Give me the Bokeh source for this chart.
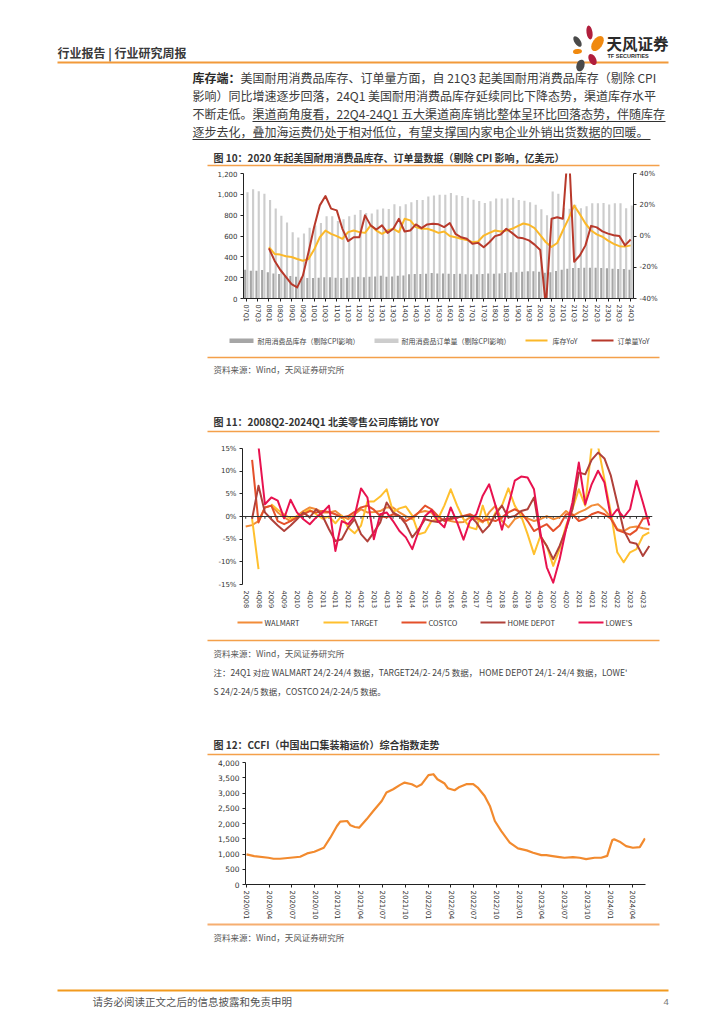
import numpy as np
import pandas as pd
from bokeh.plotting import figure
from bokeh.models import (Range1d, LinearAxis, FixedTicker, NumeralTickFormatter,
                          PrintfTickFormatter, Span, DatetimeTickFormatter)
from bokeh.layouts import column
from bokeh.core.properties import value
from bokeh.embed import file_html
from bokeh.resources import INLINE

nan = np.nan

# ---------------- Chart 10 data (07Q1 .. 24Q1) ----------------
quarters10 = [f"{y:02d}Q{q}" for y in range(7, 25) for q in range(1, 5)][:69]
inventory10 = [277, 267, 267, 273, 251, 241, 235, 219, 215, 209,
               203, 196, 196, 199, 203, 203, 199, 196, 199, 203,
               209, 203, 209, 212, 219, 209, 212, 219, 222, 232,
               235, 235, 238, 244, 241, 241, 238, 235, 238, 232,
               232, 232, 235, 241, 238, 241, 244, 251, 251, 257,
               261, 261, 257, 248, 251, 264, 277, 286, 293, 293,
               296, 296, 296, 293, 290, 286, 283, 283, 277]
orders10 = [1020, 1050, 1030, 1005, 945, 865, 795, 730, 635, 585,
            625, 680, 700, 725, 790, 790, 745, 760, 790, 805,
            850, 820, 815, 855, 865, 860, 905, 885, 905, 925,
            945, 945, 980, 990, 997, 997, 1013, 991, 985, 968,
            949, 936, 917, 933, 959, 959, 959, 968, 945, 938,
            925, 900, 858, 800, 1027, 1005, 870, 861, 899, 867,
            886, 915, 915, 918, 902, 915, 915, 867, 893]
inv_yoy10 = [nan, nan, nan, nan,
             -7.2, -11.5, -11.9, -13.0, -13.4, -14.7, -15.8, -14.7, -8.7, -0.8,
             3.5, 1.4, -0.1, -1.8, 2.5, 3.5, 2.5, 2.0, 6.8, 3.5,
             1.4, 3.5, 4.6, 2.5, 11.0, 10.0, 5.7, 4.6, 4.6, 3.5,
             2.0, 2.9, 0.0, -0.8, -1.8, -2.5, -4.0, -3.5, 0.3, 2.0,
             3.5, 2.9, 3.5, 4.6, 6.3, 8.0, 7.2, 5.0, 0.5, -4.0,
             -7.0, -4.5, 3.5, 11.0, 19.5, 14.0, 8.0, 3.5, 1.0, -0.5,
             -3.0, -5.0, -6.5, -6.8, -6.0]
ord_yoy10 = [nan, nan, nan, nan,
             -7.9, -15.8, -21.6, -26.1, -30.8, -32.9, -25.4, -10.4, 5.7, 19.6,
             25.6, 17.5, 16.4, 4.6, -3.3, -0.8, -0.8, 13.2, 6.8, 4.2,
             6.8, 2.0, 4.6, 11.0, 2.9, 3.5, 7.4, 5.0, 7.4, 7.8,
             7.5, 5.7, 8.3, 1.4, -0.8, -1.8, -5.0, -4.4, -7.2, -4.0,
             -0.1, 1.0, 4.6, 2.0, -1.0, -1.5, -2.8, -5.5, -9.0, -45.0,
             11.0, 12.0, 11.0, 60.0, -16.5, -12.5, -6.0, 6.5, 5.5, 3.0,
             1.5, 0.5, 0.0, -6.0, -2.2]
left_ticks10 = [0, 200, 400, 600, 800, 1000, 1200]
right_ticks10 = [-40, -20, 0, 20, 40]
legend10 = ["耐用消费品库存（剔除CPI影响）", "耐用消费品订单量（剔除CPI影响）", "库存YoY", "订单量YoY"]

# ---------------- Chart 11 data (08Q2 .. 24Q1) ----------------
labels11 = [f"{q}Q{y:02d}" for y in range(8, 24) for q in (2, 4)]
walmart = [-2.2, -1.9, -1.0, 2.0, 2.4, 0.9, -0.2, -1.0, 0.1, 1.2,
           2.0, 1.6, 0.9, 0.9, 1.2, 0.1, -0.6, 0.5, 1.6, 0.9,
           1.0, 1.2, 2.0, 2.0, 0.9, 0.1, -0.6, 0.9, 1.2, 0.9,
           -1.0, -0.6, -1.0, -1.3, -1.2, -0.2, -0.6, -1.3, 0.9, 2.4,
           -1.0, -2.4, -0.6, 0.1, -0.4, -1.0, -0.6, 0.1, -0.6, -0.2,
           1.2, 0.1, 0.9, 1.5, 2.4, 2.7, 1.5, -0.2, -2.8, -3.2,
           -2.4, -2.2, -2.6, -2.8]
target = [nan, -0.5, -11.6, nan, 2.7, 1.5, 0.5, -0.5, 0.0, 0.8,
          1.5, 0.5, -0.5, 0.0, -1.5, 0.2, -2.5, -3.7, -2.0, 3.3,
          3.3, 4.4, 6.0, 1.0, 1.8, 2.2, 0.2, -3.9, -3.5, -1.0,
          -0.6, 2.4, 6.0, 2.4, -0.6, -2.4, -2.8, 2.4, -2.0, 0.9,
          2.4, 6.2, 2.4, 0.1, -3.9, -8.3, -4.3, -6.5, -10.9, -7.2,
          -2.0, 1.6, 6.0, 2.4, 15.5, 15.5, 8.2, 0.9, -7.9, -10.1,
          -7.9, -7.2, -4.3, -3.5]
costco = [nan, 12.5, -1.3, 2.0, 2.4, -1.0, -1.7, -1.0, -0.2, 0.5,
          1.2, 0.9, 1.2, 1.0, 0.5, -0.2, 0.1, 1.0, 2.0, 2.4,
          1.5, 0.1, -0.2, 0.5, 0.1, -1.0, -0.2, 0.9, 2.4, 1.6,
          0.1, -1.0, -0.6, -0.2, 0.1, 0.5, -0.2, -1.0, -0.6, -1.0,
          -0.2, 0.9, 1.6, 0.9, -1.0, -3.2, -2.4, -1.7, -3.2, -2.0,
          0.5, 0.5, -1.0, -0.5, 0.5, 1.0, 0.5, -0.5, -3.0, -3.5,
          -4.0, -3.0, -0.5, -0.2]
home_depot = [nan, -0.5, 6.8, 0.9, -0.6, -2.0, -3.2, -2.0, -0.6, 0.9,
              -0.2, 1.6, 0.1, -2.8, -5.4, -5.0, -2.4, -0.6, -3.9, -5.5,
              -3.5, -1.3, 3.1, 0.9, 0.1, -1.7, -4.6, -2.8, -0.6, -1.0,
              -1.2, -0.6, -0.4, -0.2, 0.1, 0.1, -1.3, -3.5, -2.0, 0.5,
              2.4, -0.2, 0.1, 1.2, 1.6, 4.2, -4.3, -6.5, -9.4, -6.5,
              -2.8, 1.6, 9.7, 9.3, 12.5, 14.1, 12.8, 9.0, 3.0, -3.0,
              -5.7, -6.0, -8.7, -6.5]
lowes = [nan, nan, 15.5, 2.7, 4.2, 3.5, -0.4, 3.7, 0.9, -0.6,
         -1.7, -0.2, 0.9, 2.4, -7.6, -1.0, -1.7, 0.1, 6.2, 4.2,
         -5.0, 0.5, 0.9, -1.0, -3.2, -4.6, -7.2, -3.2, 0.1, 1.4,
         -1.0, -2.4, 2.0, -1.3, -5.1, -1.0, 0.5, 4.6, 7.1, 2.4,
         -2.9, 2.4, 7.9, 8.8, 8.6, 6.0, -3.5, -11.2, -14.6, -9.5,
         -2.8, 3.1, 11.9, 2.7, 7.1, 10.1, 7.5, -0.2, 1.6, -0.2,
         1.6, 7.9, 3.1, -2.0]
series11 = ["WALMART", "TARGET", "COSTCO", "HOME DEPOT", "LOWE'S"]
y_ticks11 = [-15, -10, -5, 0, 5, 10, 15]

# ---------------- Chart 12 data (CCFI) ----------------
ccfi_dates = ["2020-01-01", "2020-02-01", "2020-03-29", "2020-04-19", "2020-05-15", "2020-06-25",
              "2020-08-04", "2020-09-01", "2020-09-30", "2020-11-07", "2020-12-03", "2020-12-30",
              "2021-01-12", "2021-02-09", "2021-02-22", "2021-03-12", "2021-03-29", "2021-04-28",
              "2021-05-25", "2021-06-28", "2021-07-17", "2021-08-13", "2021-09-10", "2021-09-28",
              "2021-10-27", "2021-11-16", "2021-12-06", "2022-01-02", "2022-01-22", "2022-02-07",
              "2022-03-08", "2022-03-21", "2022-04-17", "2022-05-07", "2022-06-03", "2022-07-01",
              "2022-07-19", "2022-08-16", "2022-09-06", "2022-09-26", "2022-10-22", "2022-11-25",
              "2022-12-28", "2023-02-01", "2023-02-27", "2023-04-01", "2023-04-21", "2023-05-16",
              "2023-06-13", "2023-07-03", "2023-08-06", "2023-09-02", "2023-09-28", "2023-11-01",
              "2023-11-28", "2023-12-22", "2024-01-05", "2024-01-12", "2024-01-19", "2024-02-10",
              "2024-03-07", "2024-04-03", "2024-05-01", "2024-05-22"]
ccfi_values = [986, 932, 877, 844, 844, 877, 910, 1019, 1074, 1205, 1534, 1918,
               2060, 2082, 1940, 1885, 1863, 2137, 2411, 2740, 3014, 3123, 3266, 3342,
               3288, 3200, 3288, 3584, 3616, 3452, 3310, 3156, 3090, 3200, 3288, 3288,
               3178, 2904, 2575, 2082, 1753, 1370, 1184, 1118, 1041, 964, 964, 932,
               899, 877, 899, 877, 833, 877, 877, 940, 1300, 1460, 1480, 1403,
               1260, 1205, 1227, 1512]
ccfi_tick_labels = [f"{y}/{m:02d}" for y in range(2020, 2025) for m in (1, 4, 7, 10)][:18]
y_ticks12 = [0, 500, 1000, 1500, 2000, 2500, 3000, 3500, 4000]

# ---------------- styles ----------------
CJK = "Noto Sans CJK SC"
NUMF = "DejaVu Sans"
ORANGE = "#F4A04A"
TXT = "#333333"
DARK = "#A6A6A6"
LIGHT = "#CDCDCD"
YEL = "#FBB829"
RED = "#B8392B"
C11 = ["#F28C38", "#FFC02E", "#E4502A", "#B0413A", "#E8124F"]
W = 716          # layout width (page x = canvas x)


def band(top, bottom):
    p = figure(width=W, height=bottom - top, x_range=Range1d(0, W), y_range=Range1d(bottom, top),
               x_axis_type=None, y_axis_type=None, output_backend="svg", toolbar_location=None,
               min_border=0, frame_align=False)
    p.outline_line_color = None
    p.grid.visible = False
    return p


def T(p, x, y, s, size, color=TXT, bold=False, align="left", font=CJK):
    p.text(x=[x], y=[y], text=[s], text_font=value(font), text_font_size=value(f"{size}px"),
           text_color=color, text_align=align, text_baseline="middle",
           text_font_style="bold" if bold else "normal")


def HL(p, x0, x1, y, color=ORANGE, w=1.5):
    p.segment(x0=[x0], y0=[y], x1=[x1], y1=[y], line_color=color, line_width=w)


def style_axis(ax, size="7px"):
    ax.axis_line_color = "#222222"
    ax.major_tick_line_color = "#222222"
    ax.major_tick_out = 3
    ax.major_tick_in = 0
    ax.minor_tick_line_color = None
    ax.major_label_text_font = NUMF
    ax.major_label_text_font_size = size
    ax.major_label_text_color = "#333333"
    ax.major_label_standoff = 3


def chart(height, xr, yr, left, plot_w, t, b, **kw):
    p = figure(width=W, height=height, x_range=xr, y_range=yr, output_backend="svg",
               toolbar_location=None, min_border_left=left, min_border_right=W - left - plot_w,
               min_border_top=t, min_border_bottom=b, frame_align=False, **kw)
    p.outline_line_color = None
    p.xgrid.grid_line_color = None
    p.ygrid.grid_line_color = None
    return p


# ---------------- Band A: header + paragraph + title 10 ----------------
A = band(0, 168)
T(A, 57, 52, "行业报告 | 行业研究周报", 12, "#3a3a3a", bold=True)
HL(A, 57, 668, 62, "#F29A3A", 2)
# logo petals
A.ellipse(x=[589, 577, 597, 577, 592, 580], y=[32, 41, 43, 51, 59, 65],
          width=[6, 6, 10, 9, 7, 8], height=[14, 12, 17, 5, 12, 12],
          angle=[0.15, 0.6, -0.6, 0.1, 0.5, -0.3],
          fill_color=["#B01E3C", "#4A4A4A", "#F0890F", "#F0890F", "#B01E3C", "#4A4A4A"],
          line_color=None)
T(A, 606, 42, "天风证券", 15.5, "#2a2a2a", bold=True)
T(A, 607, 55, "TF SECURITIES", 5.5, "#2a2a2a", bold=True, font="Liberation Sans")
PX = 192
T(A, PX, 77, "库存端：", 12, "#2a2a2a", bold=True)
T(A, PX + 48, 77, "美国耐用消费品库存、订单量方面，自 21Q3 起美国耐用消费品库存（剔除 CPI", 12, "#3a3a3a")
T(A, PX, 95, "影响）同比增速逐步回落，24Q1 美国耐用消费品库存延续同比下降态势，渠道库存水平", 12, "#3a3a3a")
T(A, PX, 113, "不断走低。", 12, "#3a3a3a")
T(A, PX + 60, 113, "渠道商角度看，22Q4-24Q1 五大渠道商库销比整体呈环比回落态势，伴随库存", 12, "#3a3a3a")
T(A, PX, 131, "逐步去化，叠加海运费仍处于相对低位，有望支撑国内家电企业外销出货数据的回暖。", 12, "#3a3a3a")
HL(A, PX + 60, 665, 121, "#333333", 1)
HL(A, PX, 650, 139, "#333333", 1)
T(A, 213, 157, "图 10：2020 年起美国耐用消费品库存、订单量数据（剔除 CPI 影响，亿美元）", 10, TXT, bold=True)
HL(A, 207, 659, 165)

# ---------------- Chart 10 ----------------
idx10 = np.arange(len(quarters10))
p10 = chart(162, Range1d(-0.5, len(quarters10) - 0.5), Range1d(0, 1200), 243, 390, 5, 32)
p10.vbar(x=idx10 - 0.2, top=inventory10, width=0.38, fill_color=DARK, line_color=None)
p10.vbar(x=idx10 + 0.2, top=orders10, width=0.38, fill_color=LIGHT, line_color=None)
p10.extra_y_ranges = {"yoy": Range1d(-40, 40)}
p10.line(idx10, np.array(inv_yoy10), y_range_name="yoy", line_color=YEL, line_width=2, line_join="round")
p10.line(idx10, np.array(ord_yoy10), y_range_name="yoy", line_color=RED, line_width=2, line_join="round")
lax = p10.left[0]
lax.ticker = FixedTicker(ticks=left_ticks10)
lax.formatter = NumeralTickFormatter(format="0,0")
style_axis(lax)
rax = LinearAxis(y_range_name="yoy", ticker=FixedTicker(ticks=right_ticks10),
                 formatter=PrintfTickFormatter(format="%d%%"))
style_axis(rax)
p10.add_layout(rax, "right")
bax = p10.below[0]
bax.ticker = FixedTicker(ticks=list(range(0, len(quarters10), 2)))
bax.major_label_overrides = {int(i): quarters10[i] for i in range(0, len(quarters10), 2)}
bax.major_label_orientation = "vertical"
style_axis(bax, "6.5px")

# ---------------- Band C: legend 10, source, title 11 ----------------
C = band(330, 438)
C.quad(left=[229, 374], right=[253, 398], top=[338, 338], bottom=[342.5, 342.5],
       fill_color=[DARK, LIGHT], line_color=None)
T(C, 257, 340, legend10[0], 7, "#444444")
T(C, 401, 340, legend10[1], 7, "#444444")
HL(C, 525, 547, 340, YEL, 2)
T(C, 552, 340, legend10[2], 7, "#444444")
HL(C, 591, 613, 340, RED, 2)
T(C, 617, 340, legend10[3], 7, "#444444")
HL(C, 207, 659, 357)
T(C, 213, 368, "资料来源：Wind，天风证券研究所", 8.5, "#555555")
T(C, 213, 421, "图 11：2008Q2-2024Q1 北美零售公司库销比 YOY", 10, TXT, bold=True)
HL(C, 207, 659, 431)

# ---------------- Chart 11 ----------------
n11 = len(walmart)
idx11 = np.arange(n11)
p11 = chart(174, Range1d(-0.5, n11 - 0.5), Range1d(-15, 15), 242, 410, 10, 28)
p11.add_layout(Span(location=0, dimension="width", line_color="#333333", line_width=1))
p11.segment(x0=idx11, y0=np.zeros(n11), x1=idx11, y1=np.full(n11, -0.5), line_color="#333333", line_width=1)
for s, c in zip([walmart, target, costco, home_depot, lowes], C11):
    p11.line(idx11, np.array(s), line_color=c, line_width=2, line_join="round")
lax11 = p11.left[0]
lax11.ticker = FixedTicker(ticks=y_ticks11)
lax11.formatter = PrintfTickFormatter(format="%d%%")
style_axis(lax11)
bax11 = p11.below[0]
bax11.ticker = FixedTicker(ticks=list(range(0, n11, 2)))
bax11.major_label_overrides = {int(2 * k): lab for k, lab in enumerate(labels11)}
bax11.major_label_orientation = "vertical"
style_axis(bax11, "6.5px")
bax11.axis_line_color = None
bax11.major_tick_line_color = None

# ---------------- Band E: legend 11, notes, title 12 ----------------
E = band(612, 758)
leg_x = [237, 323, 401, 480, 578]
for lx, name, c in zip(leg_x, series11, C11):
    HL(E, lx, lx + 25, 622, c, 2)
    T(E, lx + 27, 622, name, 7.5, "#333333")
HL(E, 207, 659, 640)
T(E, 213, 652, "资料来源：Wind，天风证券研究所", 8.5, "#555555")
T(E, 213, 671, "注：24Q1 对应 WALMART  24/2-24/4 数据，TARGET24/2- 24/5 数据， HOME DEPOT 24/1- 24/4 数据，LOWE'",
  8.5, "#444444")
T(E, 213, 690, "S 24/2-24/5 数据，COSTCO   24/2-24/5 数据。", 8.5, "#444444")
T(E, 213, 744, "图 12：CCFI（中国出口集装箱运价）综合指数走势", 10, TXT, bold=True)
HL(E, 207, 659, 754)

# ---------------- Chart 12 ----------------
dates12 = pd.to_datetime(ccfi_dates)
p12 = chart(164, Range1d(pd.Timestamp("2019-12-28"), pd.Timestamp("2024-05-24")), Range1d(0, 4000),
            245, 400, 4, 38, x_axis_type="datetime")
p12.line(dates12, ccfi_values, line_color="#F28A2E", line_width=2.2, line_join="round")
lax12 = p12.left[0]
lax12.ticker = FixedTicker(ticks=y_ticks12)
lax12.formatter = NumeralTickFormatter(format="0,0")
style_axis(lax12, "7.5px")
bax12 = p12.below[0]
bax12.ticker = FixedTicker(ticks=[pd.Timestamp(l.replace("/", "-") + "-01").value / 1e6 for l in ccfi_tick_labels])
bax12.formatter = DatetimeTickFormatter(days="%Y/%m", months="%Y/%m", years="%Y/%m")
bax12.major_label_orientation = "vertical"
style_axis(bax12, "7px")

# ---------------- Band G: source + footer ----------------
G = band(922, 1016)
HL(G, 207, 659, 924, "#F6AE70", 2)
T(G, 213, 936, "资料来源：Wind，天风证券研究所", 8.5, "#555555")
HL(G, 57, 668, 990, "#F29A1E", 2)
T(G, 92, 1001, "请务必阅读正文之后的信息披露和免责申明", 10.5, "#555555")
T(G, 663, 1001, "4", 9.5, "#777777", font="Liberation Sans")

layout = column(A, p10, C, p11, E, p12, G, spacing=0)
open("out.html", "w").write(file_html(layout, INLINE))
